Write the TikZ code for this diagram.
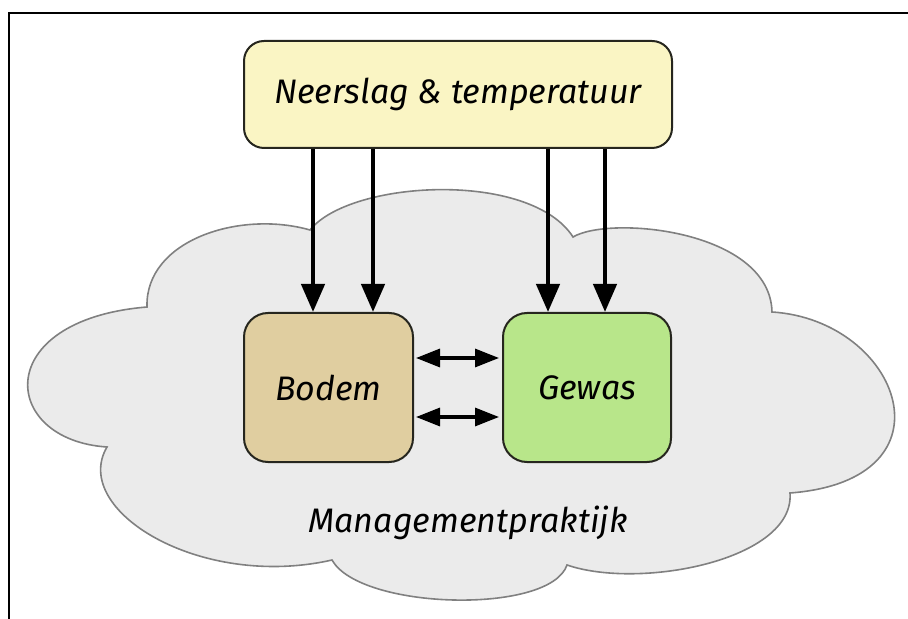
\documentclass[tikz,border=0pt]{standalone}
\usepackage{fontspec}
\setmainfont{Fira Sans}
\usetikzlibrary{arrows.meta}

\definecolor{rainfill}{RGB}{250,245,196}
\definecolor{soilfill}{RGB}{224,206,160}
\definecolor{cropfill}{RGB}{184,230,138}
\definecolor{cloudfill}{RGB}{235,235,235}
\definecolor{cloudline}{RGB}{128,128,128}
\definecolor{boxline}{RGB}{38,38,30}

\begin{document}
\begin{tikzpicture}[x=0.5pt,y=-0.5pt,
    box/.style={draw=boxline,line width=1pt,rounded corners=12pt,inner sep=0pt,
      font=\fontsize{17}{20}\selectfont\itshape},
    down/.style={line width=2.2pt,-{Triangle[length=14pt,width=11.5pt]}},
    both/.style={line width=1.6pt,{Triangle[length=12pt,width=9pt]}-{Triangle[length=12pt,width=9pt]}}]
  \useasboundingbox (0,0) rectangle (908,619);

  % frame
  \draw[line width=1pt] (9,619) -- (9,13) -- (908,13);

  % cloud
  \draw[fill=cloudfill,draw=cloudline,line width=0.8pt]
    (107,447) .. controls (0,440) and (-10,320) .. (147,307)
    .. controls (145,240) and (240,210) .. (310,230)
    .. controls (350,180) and (530,170) .. (573,237)
    .. controls (610,215) and (770,230) .. (772,312)
    .. controls (900,320) and (960,480) .. (790,493)
    .. controls (795,560) and (640,590) .. (567,565)
    .. controls (550,615) and (360,610) .. (332,560)
    .. controls (200,590) and (70,510) .. cycle;

  \node[box,fill=rainfill,minimum width=214pt,minimum height=53.5pt,rounded corners=10pt]
    (rain) at (458,94.5) {Neerslag \& temperatuur};
  \node[box,fill=soilfill,minimum width=84.5pt,minimum height=74.5pt] (bodem) at (328.5,387.5) {Bodem};
  \node[box,fill=cropfill,minimum width=84pt,minimum height=74.5pt] (gewas) at (587,387.5) {Gewas};
  \node[font=\fontsize{17}{20}\selectfont\itshape] (mgmt) at (468,523) {Managementpraktijk};

  \draw[down] ([xshift=-7.75pt]bodem.north |- rain.south) -- ([xshift=-7.75pt]bodem.north);
  \draw[down] ([xshift=22.25pt]bodem.north |- rain.south) -- ([xshift=22.25pt]bodem.north);
  \draw[down] ([xshift=-19.5pt]gewas.north |- rain.south) -- ([xshift=-19.5pt]gewas.north);
  \draw[down] ([xshift=9pt]gewas.north |- rain.south) -- ([xshift=9pt]gewas.north);

  \draw[both,shorten <=1pt,shorten >=1.5pt] ([yshift=14.75pt]bodem.east) -- ([yshift=14.75pt]gewas.west);
  \draw[both,shorten <=1pt,shorten >=1.5pt] ([yshift=-14.75pt]bodem.east) -- ([yshift=-14.75pt]gewas.west);
\end{tikzpicture}
\end{document}
